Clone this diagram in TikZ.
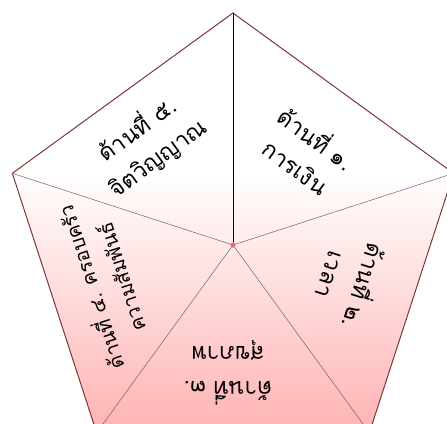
\documentclass[tikz,border=0pt]{standalone}
\usepackage{fontspec}
\newfontfamily\thaifont[Script=Thai]{Loma}
\usetikzlibrary{positioning,calc}
\definecolor{rimbrown}{RGB}{125,55,55}
\definecolor{spokegray}{RGB}{125,95,95}
\definecolor{lifepink}{RGB}{255,178,178}
\definecolor{hubred}{RGB}{232,105,105}

\begin{document}
\begin{tikzpicture}[
    x=1bp, y=1bp,
    sidelabel/.style={font=\thaifont\fontsize{23}{35}\selectfont, align=center, inner sep=0pt},
    spoke/.style={draw=spokegray, line width=0.5bp},
    rim/.style={draw=rimbrown, line width=1bp}
]
\useasboundingbox (0,0) rectangle (447,423);
\clip (0,0) rectangle (447,423);
\coordinate (o) at (233,178);
\foreach \k/\a in {1/90,2/18,3/-54,4/-126,5/162}
    \coordinate (v\k) at ($(o)+(\a:232)$);

% white top, pink towards the bottom
\begin{scope}
\clip (v1) -- (v2) -- (v3) -- (v4) -- (v5) -- cycle;
\fill[white] (0,250) rectangle (447,423);
\shade[top color=white, bottom color=lifepink] (0,-10) rectangle (447,250);
\end{scope}
\draw[rim] (v1) -- (v2) -- (v3) -- (v4) -- (v5) -- cycle;

\node[circle, fill=hubred, draw=rimbrown!50, line width=0.3bp, inner sep=0pt, minimum size=5bp] (hub) at (o) {};
\draw[black, line width=0.8bp] (hub) -- (v1);
\foreach \k in {2,3,4,5}
    \draw[spoke] (hub) -- (v\k);

\node[sidelabel, rotate=-36] (money) at (307,272) {ด้านที่ ๑.\\การเงิน};
\node[sidelabel, rotate=-108] (time) at (350,142) {ด้านที่ ๒.\\เวลา};
\node[sidelabel, rotate=180] (health) at (228,50) {ด้านที่ ๓.\\สุขภาพ};
\node[sidelabel, rotate=108, font=\thaifont\fontsize{20}{32}\selectfont] (family) at (104,140) {ด้านที่ ๔. ครอบครัว\\ความสัมพันธ์};
\node[sidelabel, rotate=36] (spirit) at (147,280) {ด้านที่ ๕.\\จิตวิญญาณ};
\end{tikzpicture}
\end{document}
